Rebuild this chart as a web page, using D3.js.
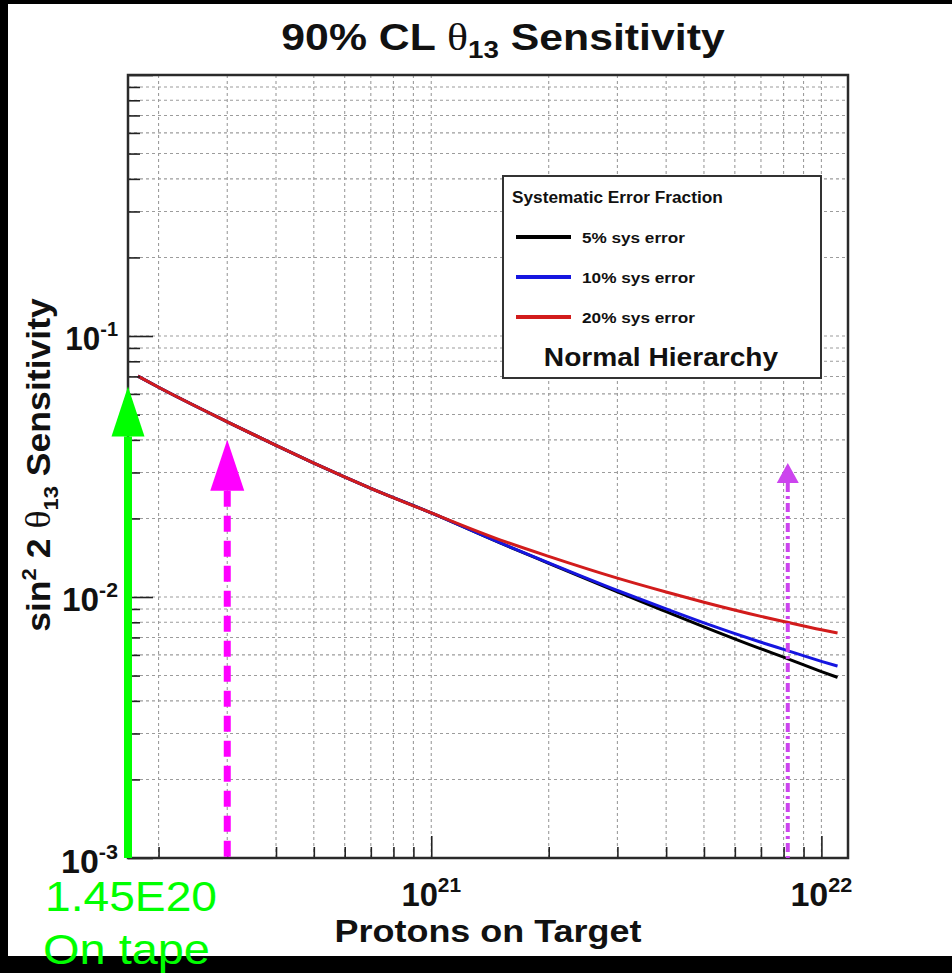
<!DOCTYPE html>
<html>
<head>
<meta charset="utf-8">
<script src="https://cdn.jsdelivr.net/npm/d3@7"></script>
<style>
  html, body { margin: 0; padding: 0; background: #000; }
  svg { display: block; }
</style>
</head>
<body>
<svg id="chart" width="952" height="973"></svg>
<script>
// Protons on target (x) and 90% CL sin^2 2theta13 sensitivity per systematic error fraction
const pot    = [1.77e20, 2e20, 3e20, 4e20, 5e20, 7e20, 1e21, 1.5e21, 2e21, 3e21, 4e21, 5e21, 7e21, 8e21, 1e22, 1.1e22];
const sys5   = [0.0702, 0.0636, 0.0469, 0.0381, 0.0326, 0.0261, 0.0210, 0.01612, 0.01346, 0.01046, 0.00879, 0.00769, 0.00633, 0.00588, 0.00518, 0.00492];
const sys10  = [0.0702, 0.0636, 0.0469, 0.0381, 0.0326, 0.0261, 0.0210, 0.01614, 0.01351, 0.01059, 0.00900, 0.00796, 0.00671, 0.00630, 0.00567, 0.00544];
const sys20  = [0.0702, 0.0636, 0.0469, 0.0381, 0.0326, 0.0261, 0.0210, 0.01656, 0.01431, 0.01181, 0.01045, 0.00955, 0.00843, 0.00806, 0.00749, 0.00728];
const seriesNames  = ["5% sys error", "10% sys error", "20% sys error"];
const seriesColors = ["#000000", "#1616e0", "#d21c1c"];

const xTickExps = [21, 22];
const yTickExps = [-3, -2, -1];

// Annotated exposures
const onTapePOT = 1.45e20;   const onTapeTip = 0.064;
const markPOT1  = 3e20;      const markTip1  = 0.040;
const markPOT2  = 8.2e21;    const markTip2  = 0.0326;

const FONT = "'Liberation Sans', Arial, Helvetica, sans-serif";
const SERIF = "'Liberation Serif', 'DejaVu Serif', serif";

const svg = d3.select("#chart");

// page: black surround with a white canvas
svg.append("rect").attr("width", 952).attr("height", 973).attr("fill", "#000");
svg.append("rect").attr("x", 8).attr("y", 4).attr("width", 944).attr("height", 952).attr("fill", "#fff");

const x = d3.scaleLog().domain([1.67e20, 1.17e22]).range([128, 848]).clamp(true);
const y = d3.scaleLog().domain([1e-3, 1]).range([858, 75]);

const [X0, X1] = x.range();
const [Y0, Y1] = y.range();

function logTicks(lo, hi) {
  const out = [];
  for (let e = Math.floor(Math.log10(lo)); e <= Math.ceil(Math.log10(hi)); e++) {
    for (let m = 1; m <= 9; m++) {
      const v = m * Math.pow(10, e);
      if (v >= lo * 0.999 && v <= hi * 1.001) out.push({ v, major: m === 1 });
    }
  }
  return out;
}
const xt = logTicks(...x.domain());
const yt = logTicks(...y.domain());

// grid
const grid = svg.append("g").attr("stroke", "#9c9c9c").attr("stroke-width", 1.1)
  .attr("stroke-dasharray", "3,3");
xt.forEach(t => grid.append("line").attr("x1", x(t.v)).attr("x2", x(t.v)).attr("y1", Y1).attr("y2", Y0));
yt.forEach(t => grid.append("line").attr("y1", y(t.v)).attr("y2", y(t.v)).attr("x1", X0).attr("x2", X1));

// curves
const line = d3.line().x(d => x(d[0])).y(d => y(d[1])).curve(d3.curveMonotoneX);
const seriesData = [sys5, sys10, sys20];
[0, 1, 2].forEach(i => {
  svg.append("path")
    .datum(pot.map((p, k) => [p, seriesData[i][k]]))
    .attr("fill", "none")
    .attr("stroke", seriesColors[i])
    .attr("stroke-width", 3)
    .attr("d", line);
});

// axes (ticks drawn inward)
const xMinor = xt.filter(t => !t.major).map(t => t.v);
const xMajor = xt.filter(t => t.major).map(t => t.v);
const yMinor = yt.filter(t => !t.major).map(t => t.v);
const yMajor = yt.filter(t => t.major).map(t => t.v);

function styleAxis(g) {
  g.selectAll("line").attr("stroke", "#222").attr("stroke-width", 1.6);
  g.select(".domain").remove();
}
svg.append("g").attr("transform", `translate(0,${Y0})`)
  .call(d3.axisBottom(x).tickValues(xMinor).tickSize(-11).tickFormat(""))
  .call(styleAxis);
svg.append("g").attr("transform", `translate(0,${Y0})`)
  .call(d3.axisBottom(x).tickValues(xMajor).tickSize(-22).tickFormat(""))
  .call(styleAxis);
svg.append("g").attr("transform", `translate(${X0},0)`)
  .call(d3.axisLeft(y).tickValues(yMinor).tickSize(-12).tickFormat(""))
  .call(styleAxis);
svg.append("g").attr("transform", `translate(${X0},0)`)
  .call(d3.axisLeft(y).tickValues(yMajor).tickSize(-25).tickFormat(""))
  .call(styleAxis);

// frame
svg.append("rect").attr("x", X0).attr("y", Y1).attr("width", X1 - X0).attr("height", Y0 - Y1)
  .attr("fill", "none").attr("stroke", "#2a2a2a").attr("stroke-width", 2.5);

// text helper: builds text in a group, then stretches it horizontally to a width
function label(parent, ax, ay, anchor, size, parts, width, rotate, fill) {
  const g = parent.append("g");
  const t = g.append("text").attr("text-anchor", anchor)
    .attr("font-family", FONT).attr("font-weight", "bold").attr("font-size", size)
    .attr("fill", fill || "#111");
  parts.forEach(p => {
    const s = t.append("tspan").text(p.t);
    if (p.dy) s.attr("dy", p.dy);
    if (p.size) s.attr("font-size", p.size);
    if (p.serif) s.attr("font-family", SERIF).attr("font-weight", "normal");
    if (p.normal) s.attr("font-weight", "normal");
  });
  const w = t.node().getBBox().width;
  const s = width ? width / w : 1;
  g.attr("transform", `translate(${ax},${ay})` + (rotate ? ` rotate(${rotate})` : "") + ` scale(${s},1)`);
  return g;
}

// title
label(svg, 503, 50, "middle", 37, [
  { t: "90% CL " }, { t: "θ", serif: true, size: 38 },
  { t: "13", size: 24, dy: 8 }, { t: " Sensitivity", dy: -8 }
], 444);

// x tick labels
const xLabelW = { 21: 60, 22: 62 };
xTickExps.forEach(e => {
  label(svg, x(Math.pow(10, e)), 906, "middle", 33, [
    { t: "10" }, { t: String(e), size: 21, dy: -14 }
  ], xLabelW[e]);
});
// y tick labels
const yLabelW = { "-1": 53, "-2": 56, "-3": 57 };
yTickExps.forEach(e => {
  label(svg, 118, y(Math.pow(10, e)) + (e === -3 ? 15 : 14), "end", 33, [
    { t: "10" }, { t: String(e), size: 21, dy: -14 }
  ], yLabelW[String(e)]);
});

// axis titles
label(svg, 488, 942, "middle", 31, [{ t: "Protons on Target" }], 307);
label(svg, 50, 465, "middle", 34, [
  { t: "sin" }, { t: "2", size: 21, dy: -14 }, { t: " 2 ", dy: 14 },
  { t: "θ", serif: true, size: 36 }, { t: "13", size: 21, dy: 8 }, { t: " Sensitivity", dy: -8 }
], 334, -90);

// legend
const lg = svg.append("g");
lg.append("rect").attr("x", 503).attr("y", 176).attr("width", 318).attr("height", 202)
  .attr("fill", "#fff").attr("stroke", "#333").attr("stroke-width", 2);
label(lg, 512, 203, "start", 16, [{ t: "Systematic Error Fraction" }], 211);
const legendY = [237, 277, 317];
const legendW = [103, 113, 113];
seriesNames.forEach((n, i) => {
  lg.append("line").attr("x1", 516).attr("x2", 571).attr("y1", legendY[i]).attr("y2", legendY[i])
    .attr("stroke", seriesColors[i]).attr("stroke-width", 4);
  label(lg, 582, legendY[i] + 6, "start", 15.5, [{ t: n }], legendW[i]);
});
label(lg, 661, 366, "middle", 26, [{ t: "Normal Hierarchy" }], 235);

// arrows marking exposures
function arrow(px, tipVal, color, width, headH, headHalf, dash) {
  const tip = y(tipVal);
  svg.append("line").attr("x1", px).attr("x2", px).attr("y1", tip + headH).attr("y2", Y0)
    .attr("stroke", color).attr("stroke-width", width)
    .attr("stroke-dasharray", dash || null);
  svg.append("path")
    .attr("d", `M${px},${tip} L${px - headHalf},${tip + headH} L${px + headHalf},${tip + headH} Z`)
    .attr("fill", color);
}
arrow(x(onTapePOT), onTapeTip, "#00ff00", 8, 50, 16.5);
arrow(x(markPOT1), markTip1, "#ff00ff", 7, 51, 17, "16,9");
arrow(x(markPOT2), markTip2, "#cc44ee", 4, 20, 11, "9,4,3,4");

// exposure annotation
label(svg, 45, 911, "start", 43, [{ t: "1.45E20", normal: true }], 172, null, "#00ff00");
label(svg, 43, 964, "start", 43, [{ t: "On tape", normal: true }], 167, null, "#00ff00");
</script>
</body>
</html>
